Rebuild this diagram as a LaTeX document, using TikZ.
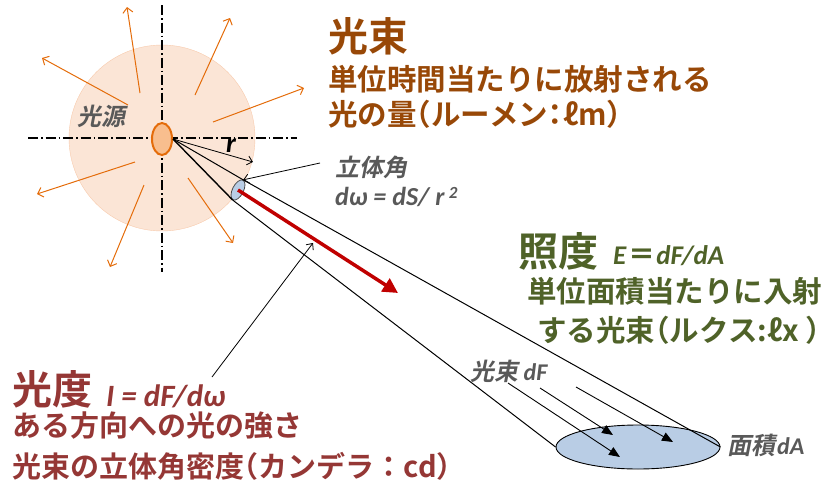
\documentclass[tikz,border=0pt]{standalone}
\usepackage{fontspec}
\usetikzlibrary{arrows.meta,shapes.geometric}

\newfontfamily\jp{Noto Sans CJK JP Bold}
\newfontfamily\jphalf{Noto Sans CJK JP Bold}[RawFeature=+halt]
\newfontfamily\jpit{Noto Sans CJK JP Bold}[FakeSlant=0.2]
\newfontfamily\lat{Carlito}

\definecolor{lumbrown}{HTML}{984807}
\definecolor{illgreen}{HTML}{4F6228}
\definecolor{intred}{HTML}{953735}
\definecolor{notegray}{HTML}{595959}
\definecolor{rayorange}{HTML}{E46C0A}
\definecolor{glowfill}{HTML}{FBE5D6}
\definecolor{glowedge}{HTML}{F8CBAD}
\definecolor{srcfill}{HTML}{F8BE8E}
\definecolor{areablue}{HTML}{B9CDE5}
\definecolor{beamred}{HTML}{C00000}

\begin{document}
\begin{tikzpicture}[x=1pt, y=-1pt,
  title/.style={anchor=west, inner sep=0, font=\jp\fontsize{40}{44}\selectfont},
  body/.style={anchor=west, inner sep=0, font=\jp\fontsize{29.5}{34}\selectfont},
  note/.style={anchor=west, inner sep=0, text=notegray, font=\jpit\fontsize{24}{28}\selectfont},
  formula/.style={anchor=west, inner sep=0, font=\lat\bfseries\itshape\fontsize{28}{30}\selectfont},
  ray/.style={draw=rayorange, line width=1pt, -{Straight Barb[length=5pt,width=10pt]}},
  axis/.style={line width=1.2pt, dash pattern=on 10pt off 3pt on 1.5pt off 3pt},
  pointer/.style={line width=0.8pt, -{Straight Barb[length=5pt,width=9pt]}},
  flux/.style={line width=0.9pt, -{Triangle[length=11pt,width=9pt]}},
  beam/.style={draw=beamred, line width=3.5pt, -{Triangle[length=15pt,width=15pt]}}]
\useasboundingbox (0,0) rectangle (839,488);

% light source
\node[circle, fill=glowfill, draw=glowedge, minimum size=186pt, inner sep=0] (glow) at (162,138) {};
\draw[axis] (28,138) -- (297,138);
\draw[axis] (162,5) -- (162,272);
\foreach \a/\b in {{(140,93)}/{(127,7)}, {(195,95)}/{(230,18)}, {(213,122)}/{(304,88)},
                   {(128,105)}/{(42,58)}, {(135,162)}/{(37,194)}, {(144,185)}/{(110,267)},
                   {(188,178)}/{(233,243)}}
  \draw[ray] \a -- \b;
\node[ellipse, fill=srcfill, draw=rayorange, line width=2pt, minimum width=20pt, minimum height=32pt, inner sep=0] (src) at (162,139) {};
\node[note] (srcLabel) at (77,116) {光源};

% solid angle and cone
\node[ellipse, fill=areablue, draw=black!70, line width=0.8pt, minimum width=22pt, minimum height=11pt, inner sep=0, rotate=63] (dS) at (238,190) {};
\node[ellipse, fill=areablue, draw=black, line width=0.9pt, minimum width=164pt, minimum height=44pt, inner sep=0] (A) at (638,447) {};
\coordinate (rTip) at (253,162);
\draw[pointer] (src.east) -- (rTip);
\node[formula, text=black] (rLabel) at (226,146) {r};
\draw[line width=1pt] (src.east) -- (dS.east) -- (A.east);
\draw[line width=1.4pt] (src.east) -- (dS.west);
\draw[line width=1pt] (dS.west) -- (A.west);
\coordinate (beamTip) at (398,293);
\draw[beam] (dS.center) -- (beamTip);

% flux onto the area
\foreach \a/\b in {{(508,383)}/{(620,457)}, {(540,388)}/{(613,435)}, {(576,387)}/{(673,442)}}
  \draw[flux] \a -- \b;

% pointers
\coordinate (saFrom) at (320,163);
\draw[pointer] (saFrom) -- (dS.east);
\coordinate (liFrom) at (212,377);
\coordinate (liTip) at (313,243);
\draw[pointer] (liFrom) -- (liTip);

% luminous flux
\node[title, text=lumbrown] (lumTitle) at (328,36) {光束};
\node[body, text=lumbrown] (lumLine1) at (328,79) {単位時間当たりに放射される};
\node[body, text=lumbrown] (lumLine2) at (328,114) {光の量{\jphalf （}ルーメン{\jphalf ：}ℓm）};

% solid angle label
\node[note] (saLabel) at (335,167) {立体角};
\node[formula, text=notegray, font=\lat\bfseries\itshape\fontsize{26}{28}\selectfont] (saFormula) at (335,197) {dω = dS/ r\,\raisebox{7pt}{\fontsize{17}{17}\selectfont 2}};

% illuminance
\node[title, text=illgreen] (illTitle) at (518,251) {照度};
\node[formula, text=illgreen, font=\lat\bfseries\itshape\fontsize{27}{28}\selectfont] (illFormula) at (613,256) {E\hspace{2pt}{\jp ＝}\hspace{1pt}dF/dA};
\node[body, text=illgreen] (illLine1) at (527,291) {単位面積当たりに入射};
\node[body, text=illgreen] (illLine2) at (537,330) {する光束{\jphalf （}ルクス:ℓx ）};

% flux and area labels
\node[note, font=\jpit\fontsize{24}{26}\selectfont] (fluxLabel) at (470,371) {光束 {\lat\bfseries\itshape dF}};
\node[note, font=\jpit\fontsize{24}{26}\selectfont] (areaLabel) at (727,445) {面積\hspace{2pt}{\lat\bfseries\itshape dA}};

% luminous intensity
\node[title, text=intred] (intTitle) at (12,389) {光度};
\node[formula, text=intred, font=\lat\bfseries\itshape\fontsize{31}{32}\selectfont] (intFormula) at (106,396) {I = dF/dω};
\node[body, text=intred, font=\jp\fontsize{29}{34}\selectfont] (intLine1) at (12,426) {ある方向への光の強さ};
\node[body, text=intred, font=\jp\fontsize{29}{34}\selectfont] (intLine2) at (12,466) {光束の立体角密度{\jphalf （}カンデラ：cd）};
\end{tikzpicture}
\end{document}
